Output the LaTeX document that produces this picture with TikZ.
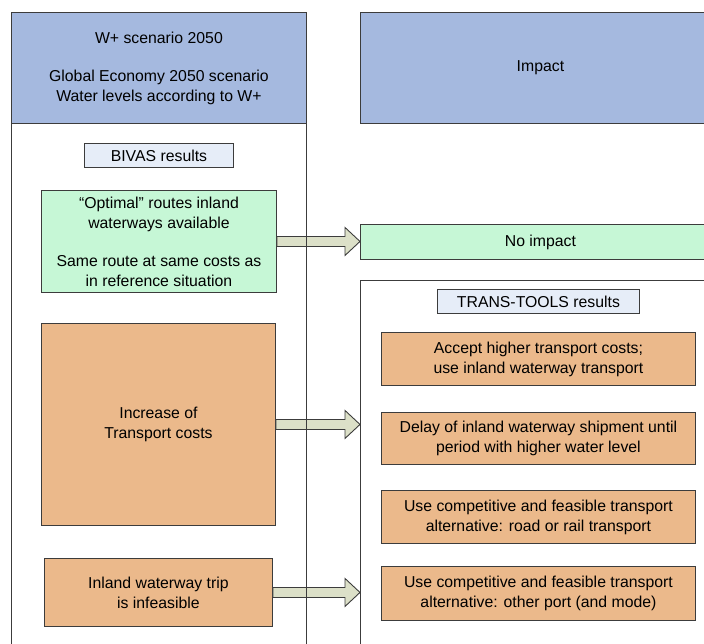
\documentclass[tikz,border=0pt]{standalone}
\usepackage{fontspec}
\setmainfont{Liberation Sans}
\usetikzlibrary{calc}
\definecolor{hblue}{RGB}{165,185,223}
\definecolor{lgreen}{RGB}{198,247,214}
\definecolor{orng}{RGB}{235,185,139}
\definecolor{lbl}{RGB}{230,237,248}
\definecolor{arrf}{RGB}{220,224,200}
\definecolor{linec}{RGB}{60,60,60}
\tikzset{
  bx/.style={draw=linec, line width=0.9pt, inner sep=0pt, align=center, anchor=north west,
     font=\fontsize{15.8}{20}\selectfont},
  fatarr/.style={draw=linec, line width=0.9pt, fill=arrf},
}
\newcommand{\fatarrow}[2]{%
  \path[fatarr] let \p1=(#1), \p2=(#2) in
    (\x1,\y1+5) -- (\x2-15,\y1+5) -- (\x2-15,\y1+14) -- (\x2,\y1) -- (\x2-15,\y1-14) -- (\x2-15,\y1-5) -- (\x1,\y1-5) -- cycle;}
\begin{document}
\begin{tikzpicture}[x=1pt,y=-1pt]
\useasboundingbox (0,0) rectangle (704,643);
\clip (0,0) rectangle (704,643);
% headers
\node[bx, fill=hblue, minimum width=295, minimum height=111] (lhead) at (11,12)
  {W+ scenario 2050\\[18pt]Global Economy 2050 scenario\\Water levels according to W+};
\node[bx, fill=hblue, minimum width=360, minimum height=111] (rhead) at (360,12) {Impact};
% left column content
\node[bx, fill=lbl, minimum width=149, minimum height=24] (bivas) at (84,143) {BIVAS results};
\node[bx, fill=lgreen, minimum width=235, minimum height=102] (green) at (41,190)
  {“Optimal” routes inland\\waterways available\\[18pt]Same route at same costs as\\in reference situation};
\node[bx, fill=orng, minimum width=234, minimum height=202] (cost) at (41,323)
  {Increase of\\Transport costs};
\node[bx, fill=orng, minimum width=228, minimum height=68] (infeas) at (44,558)
  {Inland waterway trip\\is infeasible};
% right side
\node[bx, fill=lgreen, minimum width=360, minimum height=35] (noimp) at (360,224) {No impact};
\node[bx, minimum width=360, minimum height=380] (rcol) at (360,280) {};
\node[bx, fill=lbl, minimum width=202, minimum height=24] (tt) at (437,289) {TRANS-TOOLS results};
\node[bx, fill=orng, minimum width=314, minimum height=53] (o1) at (381,332)
  {Accept higher transport costs;\\use inland waterway transport};
\node[bx, fill=orng, minimum width=314, minimum height=52] (o2) at (381,412)
  {Delay of inland waterway shipment until\\period with higher water level};
\node[bx, fill=orng, minimum width=314, minimum height=53] (o3) at (381,490)
  {Use competitive and feasible transport\\alternative: road or rail transport};
\node[bx, fill=orng, minimum width=314, minimum height=54] (o4) at (381,566)
  {Use competitive and feasible transport\\alternative: other port (and mode)};
% arrows
\fatarrow{green.east}{noimp.west}
\fatarrow{cost.east}{rcol.west}
\fatarrow{infeas.east}{rcol.west}
% left column outline on top
\node[bx, minimum width=295, minimum height=660] (lcol) at (11,12) {};
\end{tikzpicture}
\end{document}
